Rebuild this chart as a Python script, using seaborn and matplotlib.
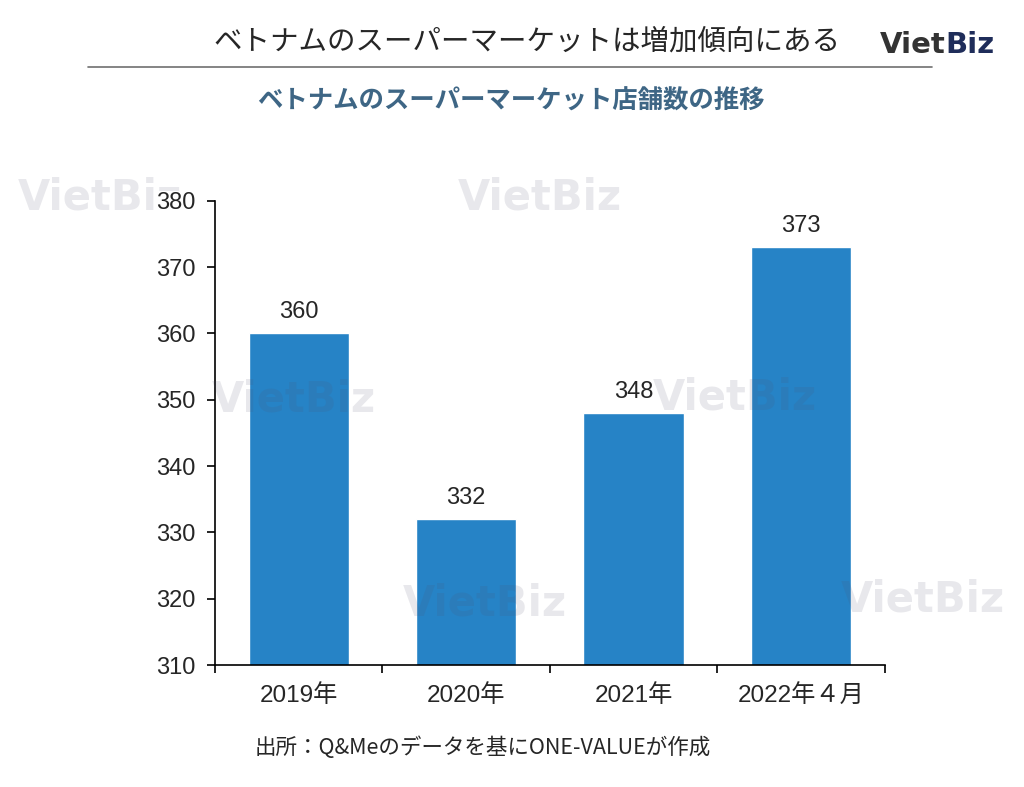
import seaborn as sns
import pandas as pd
import matplotlib.pyplot as plt

categories = ['2019年', '2020年', '2021年', '2022年４月']
stores = [360, 332, 348, 373]

sns.set_theme(style="ticks")
plt.rcParams['font.family'] = ['Liberation Sans', 'Noto Sans CJK JP', 'DejaVu Sans']

df = pd.DataFrame({'period': categories, 'stores': stores})

fig = plt.figure(figsize=(10.24, 7.87), dpi=100)
ax = fig.add_axes([0.21, 0.155, 0.654, 0.59])
ax.set_facecolor('none')

sns.barplot(data=df, x='period', y='stores', color='#2683C6', saturation=1,
            width=0.6, ax=ax)

ax.set_ylim(310, 380)
ax.set_xlim(-0.5, 3.5)
ax.set_yticks(range(310, 381, 10))
ax.set_xlabel('')
ax.set_ylabel('')
ax.tick_params(axis='y', labelsize=17, length=6, width=1.2, color='black', pad=8)
ax.tick_params(axis='x', which='major', labelsize=17.5, length=0, pad=14)
ax.set_xticks([-0.5, 0.5, 1.5, 2.5, 3.5], minor=True)
ax.tick_params(axis='x', which='minor', length=6, width=1.2, color='black')
for s in ['top', 'right']:
    ax.spines[s].set_visible(False)
for s in ['left', 'bottom']:
    ax.spines[s].set_linewidth(1.2)
    ax.spines[s].set_color('black')
for lab in ax.get_yticklabels():
    lab.set_bbox(dict(facecolor='white', edgecolor='none', pad=1))

for i, v in enumerate(stores):
    ax.text(i, v + 1.5, str(v), ha='center', va='bottom', fontsize=17)

# watermarks (semi-transparent; top-left one sits behind the axis labels)
for (x, y) in [(100, 197), (540, 197), (294, 400), (735, 397), (485, 603), (923, 600)]:
    fig.text(x / 1024, 1 - y / 787, 'VietBiz', fontsize=30, fontweight='bold',
             color='#50506E', alpha=0.13, ha='center', va='center',
             zorder=-1 if x == 100 else 10, family='DejaVu Sans')

# header
fig.text(527 / 1024, 1 - 42 / 787, 'ベトナムのスーパーマーケットは増加傾向にある',
         fontsize=20.5, ha='center', va='center', family=['Noto Sans CJK JP'])
fig.add_artist(plt.Line2D([88 / 1024, 932 / 1024], [1 - 67 / 787, 1 - 67 / 787],
                          color='#707070', lw=1.2))
viet = fig.text(880 / 1024, 1 - 45 / 787, 'Viet', fontsize=21, fontweight='bold',
                color='#333333', ha='left', va='center', family='DejaVu Sans')
fig.add_artist(plt.Annotation('Biz', xy=(1, 0.5), xycoords=viet, xytext=(0, 0),
                              textcoords='offset points', fontsize=21, fontweight='bold',
                              color='#1F2D5A', ha='left', va='center',
                              family='DejaVu Sans'))
fig.text(511 / 1024, 1 - 101 / 787, 'ベトナムのスーパーマーケット店舗数の推移',
         fontsize=18.3, fontweight='bold', color='#3E6685', ha='center', va='center',
         family=['Noto Sans CJK JP'])

# source
fig.text(255 / 1024, 1 - 748 / 787, '出所：Q&Meのデータを基にONE-VALUEが作成',
         fontsize=15.5, ha='left', va='center', family=['Noto Sans CJK JP'])

plt.savefig('out.png', dpi=100)
